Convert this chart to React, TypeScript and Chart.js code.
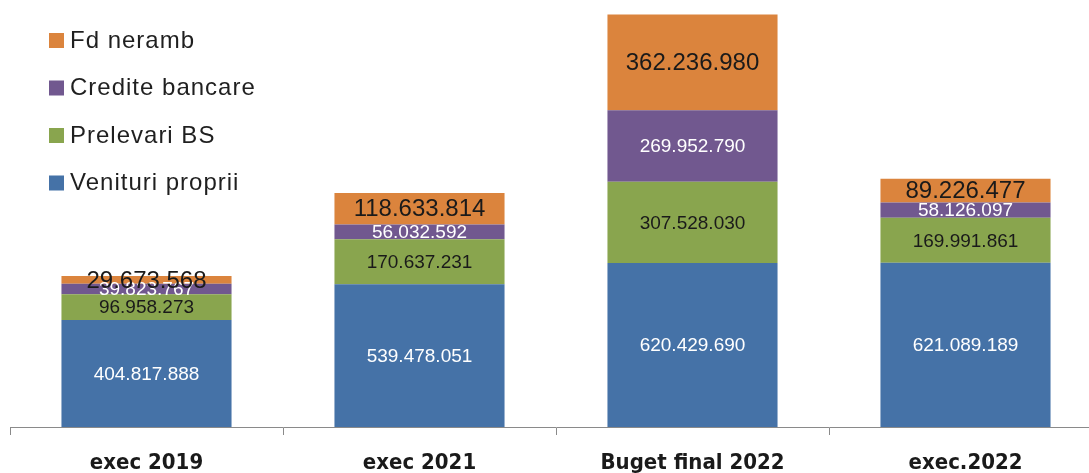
import React, { useEffect, useRef } from "react";
import { Chart, registerables } from "chart.js";

Chart.register(...registerables);

const categories = ["exec 2019", "exec 2021", "Buget final 2022", "exec.2022"];
const venituriProprii = [404817888, 539478051, 620429690, 621089189];
const prelevariBS = [96958273, 170637231, 307528030, 169991861];
const crediteBancare = [39823767, 56032592, 269952790, 58126097];
const fdNeramb = [29673568, 118633814, 362236980, 89226477];

const seriesNames = ["Venituri proprii", "Prelevari BS", "Credite bancare", "Fd neramb"];
const seriesColors = ["#4572A7", "#89A54E", "#71588F", "#DB843D"];
const labelColors = ["#ffffff", "#1a1a1a", "#ffffff", "#1a1a1a"];
const labelSizes = [19, 19, 19, 24];

const fmt = (v: number) => Math.round(v).toString().replace(/\B(?=(\d{3})+(?!\d))/g, ".");

const dataLabelPlugin = {
  id: "dataLabels",
  afterDatasetsDraw(chart: any) {
    const ctx = chart.ctx;
    chart.data.datasets.forEach((ds: any, di: number) => {
      const meta = chart.getDatasetMeta(di);
      meta.data.forEach((el: any, i: number) => {
        const y = (el.y + el.base) / 2;
        ctx.save();
        ctx.fillStyle = labelColors[di];
        ctx.font = `${labelSizes[di]}px 'Liberation Sans', Arial, sans-serif`;
        ctx.textAlign = "center";
        ctx.textBaseline = "middle";
        ctx.fillText(fmt(ds.data[i]), el.x, y + 1);
        ctx.restore();
      });
    });
  },
};

const customLegendPlugin = {
  id: "customLegend",
  afterDraw(chart: any) {
    const ctx = chart.ctx;
    const n = chart.data.datasets.length;
    ctx.save();
    for (let k = 0; k < n; k++) {
      const di = n - 1 - k;
      const ds = chart.data.datasets[di];
      const cy = 40 + k * 47.5;
      ctx.fillStyle = ds.backgroundColor;
      ctx.fillRect(49, cy - 7, 15, 15);
      ctx.fillStyle = "#1f1f1f";
      ctx.font = "24px 'Liberation Sans', Arial, sans-serif";
      (ctx as any).letterSpacing = "1px";
      ctx.textAlign = "left";
      ctx.textBaseline = "middle";
      ctx.fillText(ds.label, 70, cy + 1);
    }
    ctx.restore();
  },
};

export default function App() {
  const ref = useRef<HTMLCanvasElement>(null);
  useEffect(() => {
    if (!ref.current) return;
    const values = [venituriProprii, prelevariBS, crediteBancare, fdNeramb];
    const chart = new Chart(ref.current, {
      type: "bar",
      data: {
        labels: categories,
        datasets: values.map((d, i) => ({
          label: seriesNames[i],
          data: d,
          backgroundColor: seriesColors[i],
          borderWidth: 0,
          categoryPercentage: 1,
          barPercentage: 0.623,
        })),
      },
      options: {
        responsive: false,
        animation: false,
        layout: { padding: { left: 10, right: 8, top: 14, bottom: 0 } },
        plugins: {
          legend: { display: false },
          tooltip: { enabled: false },
        },
        scales: {
          x: {
            stacked: true,
            afterFit: (scale: any) => {
              scale.height = 46;
            },
            grid: {
              offset: true,
              drawOnChartArea: false,
              drawTicks: true,
              tickLength: 8,
              color: "#8a8a8a",
            },
            border: { display: true, color: "#8a8a8a", width: 1 },
            ticks: {
              color: "#1a1a1a",
              padding: 15,
              font: {
                family: "'Liberation Sans Narrow', 'DejaVu Sans Condensed', sans-serif",
                size: 22,
                weight: "bold",
              },
            },
          },
          y: {
            stacked: true,
            display: false,
            min: 0,
            max: 1562000000,
          },
        },
      },
      plugins: [dataLabelPlugin, customLegendPlugin],
    });
    return () => chart.destroy();
  }, []);
  return (
    <div
      style={{
        position: "fixed",
        left: 0,
        top: 0,
        width: 1089,
        height: 473,
        overflow: "hidden",
        background: "#ffffff",
      }}
    >
      <canvas ref={ref} width={1110} height={473} style={{ display: "block" }} />
    </div>
  );
}
